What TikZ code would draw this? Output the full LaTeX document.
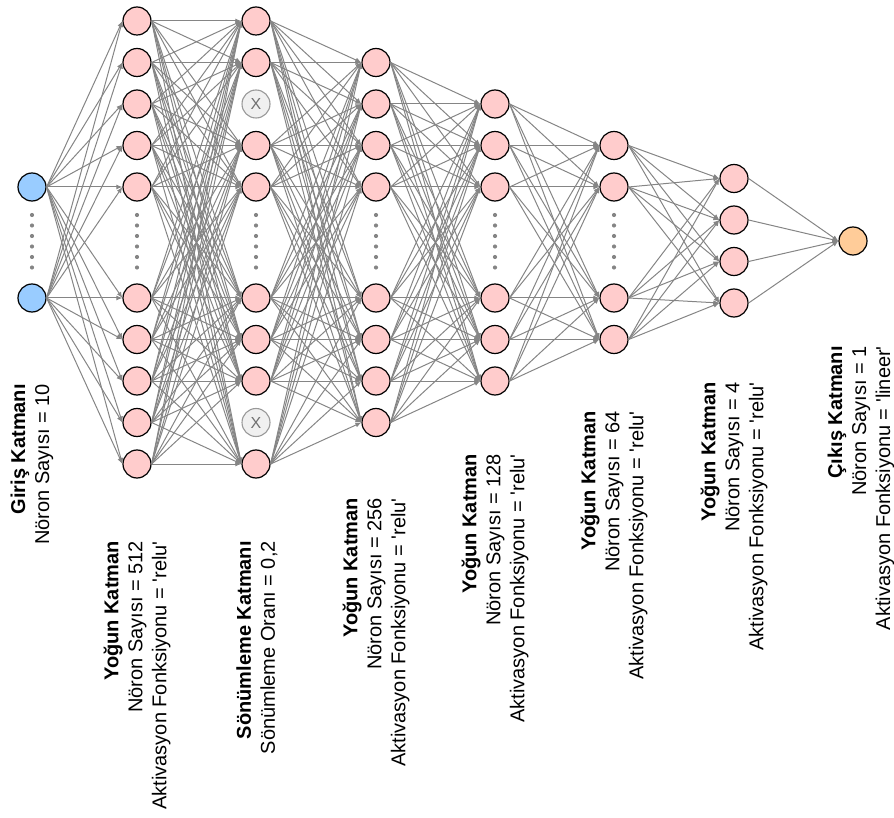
\documentclass[tikz,border=0pt]{standalone}
\usepackage{fontspec}
\setmainfont{Liberation Sans}[Ligatures=TeXOff]
\usetikzlibrary{arrows.meta}
\definecolor{pinkfill}{HTML}{FFCCCC}
\definecolor{bluefill}{HTML}{99CCFF}
\definecolor{orangefill}{HTML}{FFCC99}
\definecolor{edgegray}{HTML}{858585}
\definecolor{dropfill}{HTML}{F0F0F0}
\definecolor{dropline}{HTML}{999999}
\definecolor{droptext}{HTML}{707070}
\begin{document}
\begin{tikzpicture}[x=1pt,y=-1pt,
  neuron/.style={circle, draw=black, line width=1.2pt, minimum size=28pt, inner sep=0pt},
  hid/.style={neuron, fill=pinkfill},
  inp/.style={neuron, fill=bluefill},
  outn/.style={neuron, fill=orangefill},
  drop/.style={circle, draw=dropline, fill=dropfill, line width=1.1pt, minimum size=28pt, inner sep=0pt, text=droptext, font=\fontsize{16}{16}\selectfont},
  conn/.style={draw=edgegray, line width=1pt, -{Latex[length=6pt,width=5pt]}},
  lbl/.style={rotate=90, anchor=east, align=right, inner sep=0pt, font=\fontsize{20}{24}\selectfont}
]
\useasboundingbox (0,0) rectangle (894,818);
% input layer
\node[inp] (i1) at (32,187) {};
\node[inp] (i2) at (32,298) {};
% dense 512
\foreach \j/\y in {1/21,2/62.5,3/104,4/145.5,5/187,6/298,7/339.5,8/381,9/422.5,10/464}
  \node[hid] (a\j) at (137,\y) {};
% dropout
\foreach \j/\y in {1/21,2/62.5,4/145.5,5/187,6/298,7/339.5,8/381,10/464}
  \node[hid] (b\j) at (256,\y) {};
\node[drop] (b3) at (256,104) {X};
\node[drop] (b9) at (256,422.5) {X};
% dense 256
\foreach \j/\y in {1/62.5,2/104,3/145.5,4/187,5/298,6/339.5,7/381,8/422.5}
  \node[hid] (c\j) at (376,\y) {};
% dense 128
\foreach \j/\y in {1/104,2/145.5,3/187,4/298,5/339.5,6/381}
  \node[hid] (d\j) at (495,\y) {};
% dense 64
\foreach \j/\y in {1/145.5,2/187,3/298,4/339.5}
  \node[hid] (e\j) at (614,\y) {};
% dense 4
\foreach \j/\y in {1/178.5,2/220,3/261.5,4/303}
  \node[hid] (f\j) at (734,\y) {};
% output
\node[outn] (o) at (853,241) {};
% dots
\foreach \x in {32,137,256,376,495,614}
  \foreach \y in {215,225.5,236,246.5,257,267.5}
    \fill[edgegray] (\x,\y) circle (2.1pt);
% connections
\foreach \s in {1,2} \foreach \t in {1,...,10} \draw[conn] (i\s.east) -- (a\t.west);
\foreach \s in {1,...,10} \foreach \t in {1,2,4,5,6,7,8,10} \draw[conn] (a\s.east) -- (b\t.west);
\foreach \s in {1,2,4,5,6,7,8,10} \foreach \t in {1,...,8} \draw[conn] (b\s.east) -- (c\t.west);
\foreach \s in {1,...,8} \foreach \t in {1,...,6} \draw[conn] (c\s.east) -- (d\t.west);
\foreach \s in {1,...,6} \foreach \t in {1,...,4} \draw[conn] (d\s.east) -- (e\t.west);
\foreach \s in {1,...,4} \foreach \t in {1,...,4} \draw[conn] (e\s.east) -- (f\t.west);
\foreach \s in {1,...,4} \draw[conn] (f\s.east) -- (o.west);
% labels
\node[lbl] (l0) at (32,384) {\textbf{Giriş Katmanı}\\Nöron Sayısı = 10};
\node[lbl] (l1) at (137,541) {\textbf{Yoğun Katman}\\Nöron Sayısı = 512\\Aktivasyon Fonksiyonu = 'relu'};
\node[lbl] (l2) at (257,541) {\textbf{Sönümleme Katmanı}\\Sönümleme Oranı = 0,2};
\node[lbl] (l3) at (376,498) {\textbf{Yoğun Katman}\\Nöron Sayısı = 256\\Aktivasyon Fonksiyonu = 'relu'};
\node[lbl] (l4) at (495,454) {\textbf{Yoğun Katman}\\Nöron Sayısı = 128\\Aktivasyon Fonksiyonu = 'relu'};
\node[lbl] (l5) at (614,411) {\textbf{Yoğun Katman}\\Nöron Sayısı = 64\\Aktivasyon Fonksiyonu = 'relu'};
\node[lbl] (l6) at (734,382) {\textbf{Yoğun Katman}\\Nöron Sayısı = 4\\Aktivasyon Fonksiyonu = 'relu'};
\node[lbl] (l7) at (861,346) {\textbf{Çıkış Katmanı}\\Nöron Sayısı = 1\\Aktivasyon Fonksiyonu = 'lineer'};
\end{tikzpicture}
\end{document}
